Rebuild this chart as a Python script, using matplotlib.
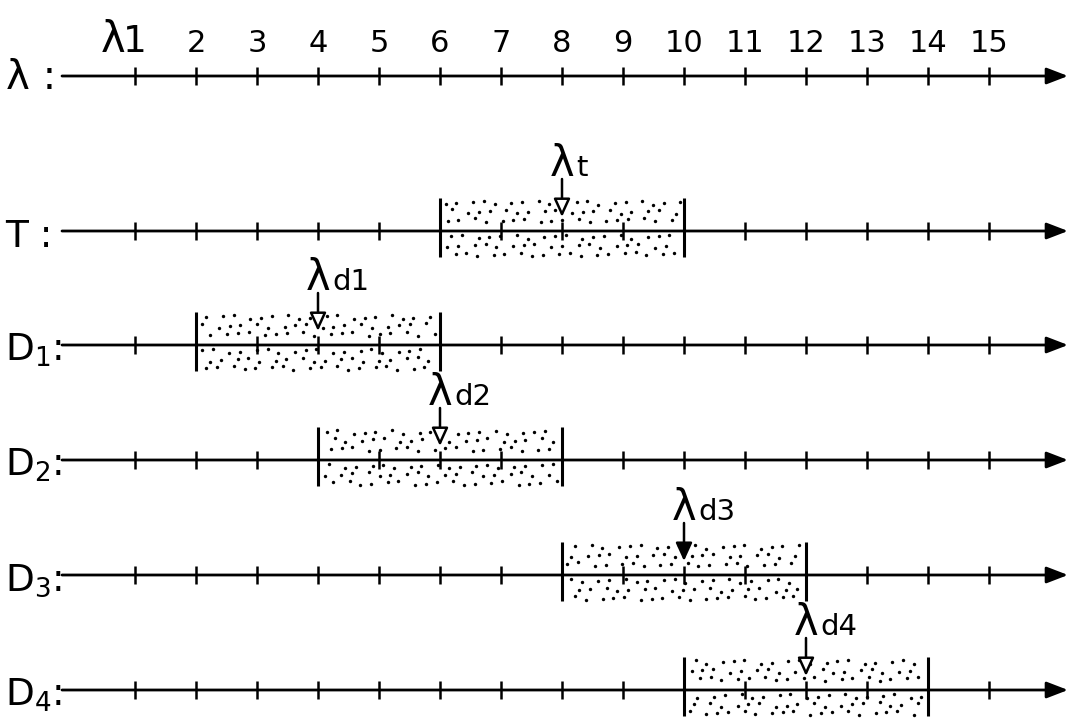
import matplotlib.pyplot as plt
import numpy as np

# wavelength scale and interval data
ticks = list(range(1, 16))
tick_labels = [str(t) for t in ticks]
row_names = ['T :', 'D$_1$:', 'D$_2$:', 'D$_3$:', 'D$_4$:']
centres = [8, 4, 6, 10, 12]          # lambda_t, lambda_d1 .. lambda_d4
band_lo = [6, 2, 4, 8, 10]
band_hi = [10, 6, 8, 12, 14]
centre_tags = ['t', 'd1', 'd2', 'd3', 'd4']
hollow_head = [True, True, True, False, True]

plt.rcParams['font.family'] = ['DejaVu Sans']

W, H = 1072, 722
PX = 61.0            # pixels per step on the scale
X1 = 135             # pixel position of tick 1

fig = plt.figure(figsize=(W / 100, H / 100), dpi=100)
ax = fig.add_axes([0, 0, 1, 1])
ax.set_xlim(1 - X1 / PX, 1 + (W - X1) / PX)
ax.set_ylim(H, 0)
ax.axis('off')


def u(p):
    # pixel length -> scale units
    return p / PX


x_start = 1 + u(62 - X1)
x_end = 1 + u(1068 - X1)
row_y = [76, 231, 345, 460, 575, 690]
GOLD = 0.6180339887


def draw_axis(y):
    ax.annotate('', xy=(x_end, y), xytext=(x_start, y),
                arrowprops=dict(arrowstyle='-|>,head_length=1.3,head_width=0.5',
                                mutation_scale=10, lw=2.0, color='black',
                                shrinkA=0, shrinkB=0), zorder=3)
    ax.vlines(ticks, y - 9, y + 9, lw=1.8, color='black', zorder=3)


def stipple(lo, hi, y, seed):
    # quasi-regular dot texture (golden-ratio offsets) filling the band
    pts = []
    rows = np.arange(y - 28, y + 24, 8.5)
    n = seed * 17
    for k, yy in enumerate(rows):
        if abs(yy - y) < 4:
            continue
        phase = ((k + seed) * GOLD) % 1.0
        xs = np.arange(lo + u(5 + 12 * phase), hi - u(4), u(13))
        for xx in xs:
            n += 1
            dx = (((n * GOLD) % 1.0) - 0.5) * u(6)
            dy = ((((n * 0.7548776662) % 1.0)) - 0.5) * 5
            pts.append((xx + dx, yy + dy))
    pts = np.array(pts)
    ax.scatter(pts[:, 0], pts[:, 1], s=6, color='black', lw=0, zorder=2)


# top scale
draw_axis(row_y[0])
ax.text(u(6) + ax.get_xlim()[0], row_y[0] + 13, 'λ :', fontsize=29, ha='left', va='baseline')
for t, lab in zip(ticks, tick_labels):
    ax.text(t, 52, lab, fontsize=27 if t == 1 else 22, ha='center', va='baseline')
ax.text(1 - u(10), 52, 'λ', fontsize=30, ha='right', va='baseline')

# T and D rows with their bands
for i, name in enumerate(row_names):
    y = row_y[i + 1]
    draw_axis(y)
    ax.text(ax.get_xlim()[0] + u(5), y + 16, name, fontsize=27, ha='left', va='baseline')

    stipple(band_lo[i], band_hi[i], y, i)
    ax.vlines([band_lo[i], band_hi[i]], y - 33, y + 26, lw=2.2, color='black', zorder=3)

    c = centres[i]
    ax.annotate('', xy=(c, y - 14), xytext=(c, y - 52),
                arrowprops=dict(arrowstyle='-|>,head_length=1.1,head_width=0.5',
                                mutation_scale=10, lw=1.8, ec='black',
                                fc='white' if hollow_head[i] else 'black',
                                shrinkA=0, shrinkB=0), zorder=4)
    ax.text(c, y - 55, 'λ', fontsize=30, ha='center', va='baseline')
    ax.text(c + u(14), y - 55, centre_tags[i], fontsize=21, ha='left', va='baseline')

fig.savefig('out.png', dpi=100, facecolor='white')
